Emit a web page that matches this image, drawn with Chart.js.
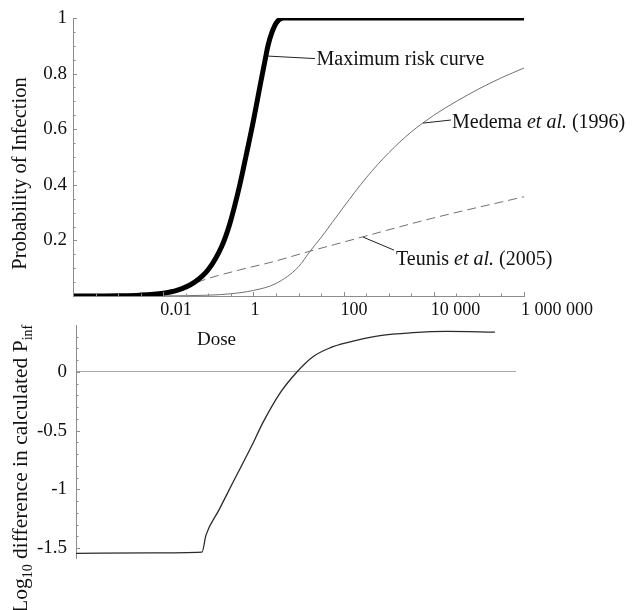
<!DOCTYPE html>
<html>
<head>
<meta charset="utf-8">
<script src="https://cdn.jsdelivr.net/npm/chart.js@4.4.1/dist/chart.umd.min.js"></script>
<style>
  html, body { margin: 0; padding: 0; background: #fff; }
  #wrap { position: relative; width: 634px; height: 610px; overflow: hidden; }
  #wrap canvas { position: absolute; left: 0; top: 0; }
</style>
</head>
<body>
<div id="wrap">
  <canvas id="diff" width="634" height="610"></canvas>
  <canvas id="prob" width="634" height="610"></canvas>
</div>
<script>
// axis ticks
const doseTicks = [0.0001, 0.01, 1, 100, 10000, 1000000];
const doseTickLabels = ["", "0.01", "1", "100", "10 000", "1 000 000"];
const probTicks = [0, 0.2, 0.4, 0.6, 0.8, 1];
const probTickLabels = ["", "0.2", "0.4", "0.6", "0.8", "1"];
const diffTicks = [-1.5, -1, -0.5, 0];
const diffTickLabels = ["-1.5", "-1", "-0.5", "0"];

// maximum risk curve
const maxDose = [0.0001, 0.001, 0.003, 0.01, 0.02, 0.05, 0.1, 0.2, 0.3, 0.5, 0.7, 1, 1.4, 1.8, 2.1, 2.6, 3.3, 4.6, 1000000];
const maxP = [0.0001, 0.001, 0.003, 0.01, 0.02, 0.05, 0.095, 0.18, 0.26, 0.4, 0.51, 0.63, 0.755, 0.845, 0.9, 0.95, 0.985, 1, 1];

// Medema et al. (1996)
const medemaDose = [0.0001, 0.01, 0.1, 0.316, 1, 3.16, 10, 17.8, 31.6, 56.2, 100, 316, 1000, 3160, 10000, 31600, 100000, 316000, 1000000];
const medemaP = [0, 0.0005, 0.003, 0.008, 0.02, 0.045, 0.105, 0.16, 0.21, 0.265, 0.32, 0.425, 0.515, 0.59, 0.65, 0.7, 0.745, 0.785, 0.82];

// Teunis et al. (2005)
const teunisDose = [0.0001, 0.001, 0.01, 0.03, 0.059, 0.5, 2.7, 16, 63, 270, 9500, 1000000];
const teunisP = [0.0001, 0.001, 0.009, 0.026, 0.05, 0.094, 0.123, 0.159, 0.185, 0.213, 0.28, 0.357];

// log10 difference in calculated P_inf
const diffDose = [0.0001, 0.005, 0.073, 0.09, 0.178, 0.37, 1, 1.78, 4.33, 10.5, 24.3, 59, 145, 813, 4570, 26900, 331000];
const diffVal = [-1.545, -1.542, -1.535, -1.39, -1.175, -0.94, -0.625, -0.43, -0.18, 0, 0.13, 0.205, 0.25, 0.31, 0.335, 0.345, 0.34];

const SERIF = '"Liberation Serif", "DejaVu Serif", serif';
const INK = '#111';
const AXIS = '#8c8c8c';
const pts = (xs, ys) => xs.map((x, i) => ({ x: x, y: ys[i] }));

// label callouts, in data units: curve point, line end, text start (baseline)
const callouts = [
  { from: [2.11, 0.863], to: [23.2, 0.854], at: [25.1, 0.831],
    runs: [["Maximum risk curve", false]] },
  { from: [5770, 0.622], to: [24000, 0.633], at: [25300, 0.604],
    runs: [["Medema ", false], ["et al.", true], [" (1996)", false]] },
  { from: [269, 0.212], to: [1312, 0.165], at: [1452, 0.1115],
    runs: [["Teunis ", false], ["et al.", true], [" (2005)", false]] }
];

function drawRuns(ctx, runs, x, y, size) {
  runs.forEach(r => {
    ctx.font = (r[1] ? 'italic ' : '') + size + 'px ' + SERIF;
    ctx.fillText(r[0], x, y);
    x += ctx.measureText(r[0]).width;
  });
}

// rotated title with optional subscripts: parts = [text, size, isSub]
function drawVertical(ctx, parts, x, yStart, centre) {
  let w = 0;
  parts.forEach(p => { ctx.font = p[1] + 'px ' + SERIF; w += ctx.measureText(p[0]).width; });
  const y0 = centre ? yStart + w / 2 : yStart;
  ctx.save();
  ctx.translate(x, y0);
  ctx.rotate(-Math.PI / 2);
  ctx.textAlign = 'left';
  ctx.textBaseline = 'alphabetic';
  let pos = 0;
  parts.forEach(p => {
    ctx.font = p[1] + 'px ' + SERIF;
    ctx.fillText(p[0], pos, p[2] ? 5 : 0);
    pos += ctx.measureText(p[0]).width;
  });
  ctx.restore();
}

const decorations = {
  id: 'decorations',
  afterDraw(chart, args, opts) {
    const ctx = chart.ctx;
    const area = chart.chartArea;
    ctx.save();
    ctx.strokeStyle = AXIS;
    ctx.lineWidth = 1;
    (opts.ticks || []).forEach(t => {
      const scale = chart.scales[t.axis];
      t.values.forEach(v => {
        const p = Math.round(scale.getPixelForValue(v)) + 0.5;
        ctx.beginPath();
        if (t.axis === 'x') {
          ctx.moveTo(p, area.bottom);
          ctx.lineTo(p, area.bottom - t.len);
        } else {
          ctx.moveTo(area.left, p);
          ctx.lineTo(area.left + t.len, p);
        }
        ctx.stroke();
      });
    });
    if (opts.callouts) {
      const sx = chart.scales.x, sy = chart.scales.y;
      ctx.strokeStyle = '#222';
      ctx.fillStyle = INK;
      ctx.textAlign = 'left';
      ctx.textBaseline = 'alphabetic';
      opts.callouts.forEach(c => {
        ctx.beginPath();
        ctx.moveTo(sx.getPixelForValue(c.from[0]), sy.getPixelForValue(c.from[1]));
        ctx.lineTo(sx.getPixelForValue(c.to[0]), sy.getPixelForValue(c.to[1]));
        ctx.stroke();
        drawRuns(ctx, c.runs, sx.getPixelForValue(c.at[0]), sy.getPixelForValue(c.at[1]), 20);
      });
    }
    ctx.fillStyle = INK;
    (opts.titles || []).forEach(t => {
      if (t.vertical) {
        drawVertical(ctx, t.parts, t.x, t.y, t.centre);
      } else {
        ctx.textAlign = 'left';
        ctx.textBaseline = 'alphabetic';
        ctx.font = t.size + 'px ' + SERIF;
        ctx.fillText(t.text, t.x, t.y);
      }
    });
    ctx.restore();
  }
};

const halfDecades = [];
for (let e = -4; e <= 6; e += 0.5) {
  if (Math.abs(e % 2) > 1e-9) halfDecades.push(Math.pow(10, e));
}
const probMinor = [];
for (let v = 0.05; v < 1; v += 0.05) probMinor.push(v);
const diffMinor = [];
for (let v = -1.5; v <= 0.4; v += 0.1) diffMinor.push(v);

new Chart(document.getElementById('prob'), {
  type: 'line',
  data: {
    datasets: [
      { data: pts(maxDose, maxP), borderColor: '#000', borderWidth: 5,
        cubicInterpolationMode: 'monotone', pointRadius: 0 },
      { data: pts(medemaDose, medemaP), borderColor: '#707070', borderWidth: 1,
        cubicInterpolationMode: 'monotone', pointRadius: 0 },
      { data: pts(teunisDose, teunisP), borderColor: '#707070', borderWidth: 1,
        borderDash: [9, 5], cubicInterpolationMode: 'monotone', pointRadius: 0 }
    ]
  },
  options: {
    responsive: false,
    animation: false,
    devicePixelRatio: 1,
    events: [],
    layout: { padding: { left: 0, top: 18, right: 110, bottom: 284 } },
    plugins: {
      legend: { display: false },
      tooltip: { enabled: false },
      decorations: {
        ticks: [
          { axis: 'x', values: doseTicks, len: 4 },
          { axis: 'x', values: halfDecades, len: 2.5 },
          { axis: 'y', values: probTicks, len: 4 },
          { axis: 'y', values: probMinor, len: 2.5 }
        ],
        callouts: callouts,
        titles: [
          { vertical: true, centre: true, x: 26, y: 173.5,
            parts: [["Probability of Infection", 20.5, false]] },
          { text: "Dose", size: 19, x: 197, y: 345 }
        ]
      }
    },
    scales: {
      x: {
        type: 'logarithmic', min: 0.0001, max: 1000000,
        afterBuildTicks: s => { s.ticks = doseTicks.map(v => ({ value: v })); },
        afterFit: s => { s.height = 30; },
        grid: { display: false, drawTicks: false },
        border: { display: true, color: AXIS, width: 1 },
        ticks: {
          autoSkip: false, maxRotation: 0, minRotation: 0,
          align: 'start', labelOffset: -3, padding: 3,
          color: INK, font: { family: SERIF, size: 18 },
          callback: (v, i) => doseTickLabels[i]
        }
      },
      y: {
        min: 0, max: 1,
        afterBuildTicks: s => { s.ticks = probTicks.map(v => ({ value: v })); },
        afterFit: s => { s.width = 73; },
        grid: { display: false, drawTicks: false },
        border: { display: true, color: AXIS, width: 1 },
        ticks: { padding: 6, color: INK, font: { family: SERIF, size: 19 },
          callback: (v, i) => probTickLabels[i] }
      }
    }
  },
  plugins: [decorations]
});

new Chart(document.getElementById('diff'), {
  type: 'line',
  data: {
    datasets: [
      { data: pts(diffDose, diffVal), borderColor: '#2a2a2a', borderWidth: 1.3,
        cubicInterpolationMode: 'monotone', pointRadius: 0 }
    ]
  },
  options: {
    responsive: false,
    animation: false,
    devicePixelRatio: 1,
    events: [],
    layout: { padding: { left: 0, top: 325, right: 118, bottom: 52 } },
    plugins: {
      legend: { display: false },
      tooltip: { enabled: false },
      decorations: {
        ticks: [
          { axis: 'y', values: diffTicks, len: 4 },
          { axis: 'y', values: diffMinor, len: 2.5 }
        ],
        titles: [
          { vertical: true, centre: false, x: 27, y: 613,
            parts: [["Log", 21.5, false], ["10", 14, true],
                    [" difference in calculated P", 21.5, false], ["inf", 14, true]] }
        ]
      }
    },
    scales: {
      x: { type: 'logarithmic', min: 0.0001, max: 1000000, display: false },
      y: {
        min: -1.585, max: 0.4,
        afterBuildTicks: s => { s.ticks = diffTicks.map(v => ({ value: v })); },
        afterFit: s => { s.width = 76; },
        grid: {
          display: true, drawOnChartArea: true, drawTicks: false,
          color: c => (c.tick && c.tick.value === 0) ? '#a8a8a8' : 'rgba(0,0,0,0)'
        },
        border: { display: true, color: AXIS, width: 1 },
        ticks: { padding: 9, color: INK, font: { family: SERIF, size: 19 },
          callback: (v, i) => diffTickLabels[i] }
      }
    }
  },
  plugins: [decorations]
});
</script>
</body>
</html>
